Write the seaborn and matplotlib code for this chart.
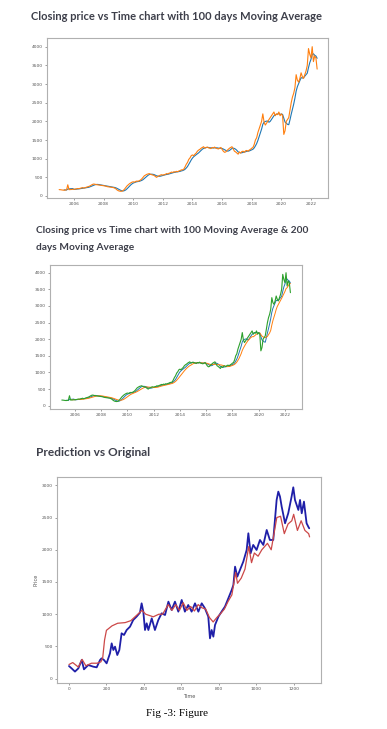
import numpy as np
import pandas as pd
import matplotlib
matplotlib.use("Agg")
import matplotlib.pyplot as plt
import seaborn as sns

# ---------------- data ----------------
years = list(range(2005, 2023))
close_monthly = [
    [170, 168, 162, 158, 155, 160, 165, 300, 170, 172, 175, 180],          # 2005
    [180, 185, 190, 200, 195, 205, 215, 225, 210, 220, 235, 245],          # 2006
    [255, 270, 290, 310, 320, 315, 305, 300, 295, 290, 285, 280],          # 2007
    [275, 270, 260, 250, 245, 240, 235, 230, 225, 210, 190, 160],          # 2008
    [140, 130, 125, 130, 150, 185, 230, 270, 300, 330, 350, 370],          # 2009
    [380, 370, 390, 400, 395, 410, 430, 460, 500, 540, 560, 580],          # 2010
    [590, 600, 580, 570, 560, 550, 520, 500, 530, 540, 560, 570],          # 2011
    [560, 570, 580, 600, 590, 610, 620, 640, 630, 650, 640, 660],          # 2012
    [650, 670, 680, 700, 700, 720, 780, 850, 900, 980, 1020, 1080],        # 2013
    [1100, 1080, 1120, 1150, 1200, 1230, 1250, 1280, 1300, 1320, 1280, 1300],  # 2014
    [1310, 1290, 1280, 1270, 1300, 1290, 1310, 1280, 1270, 1260, 1280, 1300],  # 2015
    [1250, 1200, 1170, 1180, 1220, 1250, 1280, 1300, 1320, 1260, 1200, 1180],  # 2016
    [1150, 1120, 1180, 1150, 1190, 1200, 1170, 1210, 1220, 1200, 1230, 1250],  # 2017
    [1280, 1300, 1380, 1500, 1560, 1700, 1800, 1900, 2000, 2200, 1980, 1900],  # 2018
    [1950, 2000, 2050, 2100, 2150, 2200, 2250, 2150, 2200, 2180, 2250, 2150],  # 2019
    [2200, 2150, 1650, 1750, 2000, 2050, 2100, 2300, 2500, 2650, 2750, 2900],  # 2020
    [3250, 3100, 3050, 3150, 3300, 3200, 3150, 3250, 3350, 3500, 3950, 3800],  # 2021
    [3700, 4000, 3600, 3750, 3700, 3400],                                  # 2022
]

orig_t = [0, 14, 32, 50, 68, 80, 103, 130, 148, 166, 174, 187, 201, 219, 228, 237, 246,
          258, 269, 281, 294, 308, 326, 343, 361, 379, 388, 397, 406, 415, 424, 442, 459,
          477, 495, 513, 531, 548, 566, 584, 602, 619, 637, 655, 673, 691, 709, 726, 744,
          753, 762, 771, 780, 798, 815, 833, 851, 869, 878, 887, 899, 913, 931, 949, 958,
          970, 984, 1002, 1020, 1038, 1056, 1073, 1091, 1109, 1118, 1127, 1136, 1154, 1171,
          1189, 1198, 1207, 1225, 1234, 1243, 1255, 1269, 1278, 1283]
orig_price = [196, 160, 110, 160, 290, 145, 212, 186, 176, 290, 315, 290, 238, 393, 548,
              445, 497, 367, 445, 704, 678, 755, 807, 910, 962, 1024, 1169, 1040, 755, 859,
              755, 936, 755, 910, 1014, 988, 1195, 1066, 1195, 1040, 1221, 1040, 1143, 1040,
              1169, 1040, 1169, 1092, 962, 626, 755, 652, 833, 962, 1040, 1118, 1247, 1376,
              1454, 1738, 1583, 1686, 1816, 1997, 2256, 1945, 2075, 1997, 2152, 2075, 2307,
              2152, 2152, 2773, 2902, 2825, 2669, 2411, 2566, 2825, 2969, 2773, 2618, 2773,
              2566, 2747, 2411, 2359, 2333]

pred_t = [0, 20, 50, 70, 90, 120, 150, 170, 180, 190, 200, 230, 260, 300, 330, 360, 390,
          410, 430, 450, 480, 500, 530, 550, 570, 590, 610, 630, 650, 670, 690, 710, 730,
          750, 770, 790, 810, 830, 850, 870, 890, 900, 920, 940, 960, 975, 990, 1010, 1030,
          1060, 1080, 1110, 1130, 1150, 1170, 1190, 1200, 1220, 1240, 1260, 1280, 1285]
pred_price = [220, 250, 180, 300, 200, 240, 240, 260, 320, 600, 750, 820, 860, 870, 900,
              980, 1060, 1000, 980, 960, 1000, 1000, 1150, 1060, 1150, 1060, 1180, 1060,
              1120, 1050, 1150, 1100, 1080, 950, 880, 950, 1010, 1080, 1200, 1300, 1650,
              1480, 1560, 1700, 2050, 1800, 1950, 1900, 2000, 2100, 2000, 2500, 2520, 2250,
              2400, 2450, 2550, 2300, 2450, 2300, 2250, 2200]

year_ticks = [2006, 2008, 2010, 2012, 2014, 2016, 2018, 2020, 2022]

# ---------------- build frames ----------------
t_list, c_list = [], []
for y, vals in zip(years, close_monthly):
    for m, v in enumerate(vals):
        t_list.append(y + m / 12.0)
        c_list.append(v)
stock = pd.DataFrame({"t": t_list, "close": c_list})
stock["ma100"] = stock["close"].rolling(5).mean()
stock["ma200"] = stock["close"].rolling(10).mean()

sns.set_style("ticks")
plt.rcParams["font.family"] = ["DejaVu Sans"]

W, H = 387, 729
fig = plt.figure(figsize=(W / 100, H / 100), dpi=100)


def ax_at(l, t, r, b):
    return fig.add_axes([l / W, 1 - b / H, (r - l) / W, (b - t) / H])


def style(ax):
    for s in ax.spines.values():
        s.set_color("#b0b0b0")
        s.set_linewidth(0.8)
    ax.tick_params(labelsize=3.2, colors="#555555", length=1.5, width=0.4, pad=1.5)
    ax.set_xlabel("")
    ax.set_ylabel("")


title_kw = dict(family="Lato", weight="bold", color="#3d3f4a")

# ---- panel 1 ----
fig.text(31 / W, 1 - 17 / H, "Closing price vs Time chart with 100 days Moving Average",
         fontsize=8.0, va="center", ha="left", **title_kw)
ax1 = ax_at(47, 38, 328, 198)
sns.lineplot(data=stock, x="t", y="ma100", ax=ax1, color="#1f77b4", linewidth=0.8)
sns.lineplot(data=stock, x="t", y="close", ax=ax1, color="#ff7f0e", linewidth=0.8)
ax1.set_xlim(2004.18, 2023.15)
ax1.set_ylim(-54, 4233)
ax1.set_xticks(year_ticks)
ax1.set_yticks(range(0, 4001, 500))
style(ax1)

# ---- panel 2 ----
fig.text(36 / W, 1 - 230 / H, "Closing price vs Time chart with 100 Moving Average & 200",
         fontsize=7.3, va="center", ha="left", **title_kw)
fig.text(36 / W, 1 - 248 / H, "days Moving Average",
         fontsize=7.3, va="center", ha="left", **title_kw)
ax2 = ax_at(50, 265, 302, 409)
sns.lineplot(data=stock, x="t", y="ma100", ax=ax2, color="#1f77b4", linewidth=0.7)
sns.lineplot(data=stock, x="t", y="ma200", ax=ax2, color="#ff7f0e", linewidth=0.7)
sns.lineplot(data=stock, x="t", y="close", ax=ax2, color="#2ca02c", linewidth=0.8)
ax2.set_xlim(2004.1, 2023.3)
ax2.set_ylim(-99, 4232)
ax2.set_xticks(year_ticks)
ax2.set_yticks(range(0, 4001, 500))
style(ax2)

# ---- panel 3 ----
fig.text(36 / W, 1 - 452 / H, "Prediction vs Original",
         fontsize=8.6, va="center", ha="left", **title_kw)
ax3 = ax_at(57, 477, 321, 683)
sns.lineplot(x=orig_t, y=orig_price, ax=ax3, color="#1f1fa8", linewidth=1.3)
sns.lineplot(x=pred_t, y=pred_price, ax=ax3, color="#cc4848", linewidth=0.9)
ax3.set_xlim(-64, 1346)
ax3.set_ylim(-67, 3129)
ax3.set_xticks(range(0, 1201, 200))
ax3.set_yticks(range(0, 3001, 500))
style(ax3)
ax3.set_xlabel("Time", fontsize=3.6, color="#555555", labelpad=2)
ax3.set_ylabel("Price", fontsize=3.6, color="#555555", labelpad=2)

fig.text(177 / W, 1 - 713 / H, "Fig -3: Figure", family="Liberation Serif",
         fontsize=8, ha="center", va="center", color="black")

fig.savefig("out.png", dpi=100)
